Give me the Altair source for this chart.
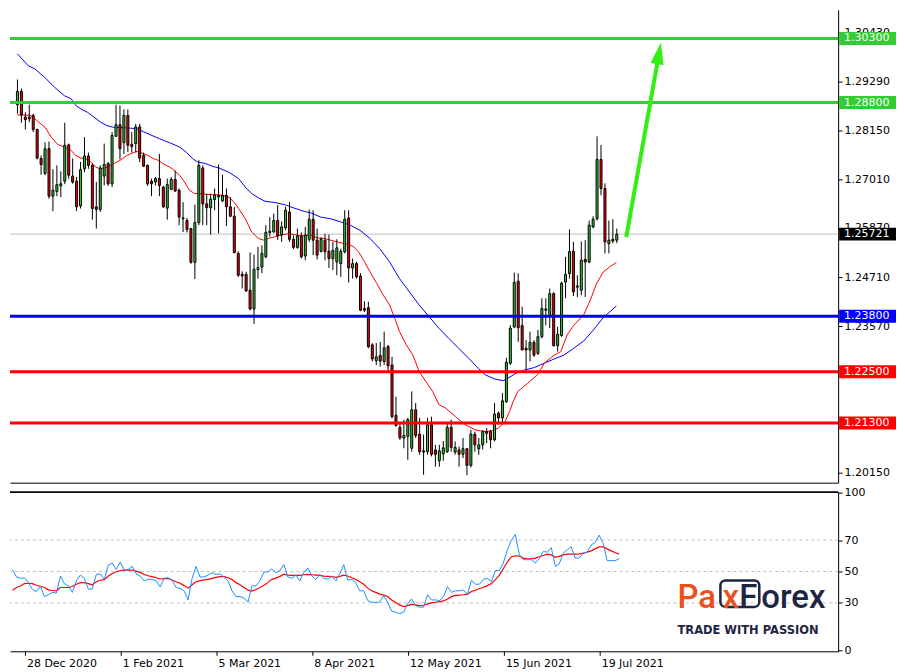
import altair as alt
import pandas as pd
import numpy as np

# ---------------- data ----------------
bar_open = [1.2875, 1.2906, 1.2846, 1.2842, 1.2850, 1.2817, 1.2749, 1.2714, 1.2772, 1.2661,
            1.2672, 1.2685, 1.2696, 1.2781, 1.2708, 1.2696, 1.2638, 1.2725, 1.2755, 1.2733,
            1.2636, 1.2630, 1.2708, 1.2737, 1.2690, 1.2801, 1.2828, 1.2786, 1.2850, 1.2782,
            1.2784, 1.2823, 1.2756, 1.2733, 1.2696, 1.2694, 1.2702, 1.2682, 1.2633, 1.2677,
            1.2700, 1.2675, 1.2610, 1.2604, 1.2585, 1.2506, 1.2599, 1.2727, 1.2643, 1.2634,
            1.2653, 1.2659, 1.2650, 1.2663, 1.2636, 1.2614, 1.2527, 1.2478, 1.2478, 1.2441,
            1.2397, 1.2489, 1.2495, 1.2519, 1.2576, 1.2577, 1.2604, 1.2570, 1.2587, 1.2624,
            1.2560, 1.2541, 1.2568, 1.2521, 1.2560, 1.2607, 1.2558, 1.2532, 1.2558, 1.2532,
            1.2515, 1.2507, 1.2503, 1.2531, 1.2610, 1.2493, 1.2503, 1.2474, 1.2398, 1.2400,
            1.2313, 1.2276, 1.2288, 1.2274, 1.2309, 1.2266, 1.2148, 1.2120, 1.2095, 1.2099,
            1.2071, 1.2161, 1.2104, 1.2065, 1.2063, 1.2126, 1.2067, 1.2042, 1.2058, 1.2063,
            1.2120, 1.2062, 1.2067, 1.2057, 1.2070, 1.2031, 1.2104, 1.2070, 1.2079, 1.2110,
            1.2110, 1.2091, 1.2153, 1.2142, 1.2180, 1.2270, 1.2355, 1.2462, 1.2358, 1.2305,
            1.2301, 1.2319, 1.2293, 1.2332, 1.2394, 1.2379, 1.2433, 1.2311, 1.2335, 1.2460,
            1.2480, 1.2532, 1.2448, 1.2441, 1.2513, 1.2507, 1.2589, 1.2608, 1.2747, 1.2679,
            1.2550, 1.2560, 1.2558]
bar_high = [1.2934, 1.2913, 1.2857, 1.2875, 1.2854, 1.2819, 1.2756, 1.2787, 1.2789, 1.2724,
            1.2733, 1.2719, 1.2833, 1.2784, 1.2749, 1.2706, 1.2741, 1.2799, 1.2763, 1.2737,
            1.2694, 1.2733, 1.2784, 1.2741, 1.2811, 1.2875, 1.2873, 1.2864, 1.2864, 1.2811,
            1.2830, 1.2830, 1.2763, 1.2735, 1.2702, 1.2706, 1.2760, 1.2685, 1.2702, 1.2706,
            1.2721, 1.2679, 1.2647, 1.2610, 1.2587, 1.2641, 1.2745, 1.2733, 1.2667, 1.2667,
            1.2679, 1.2735, 1.2711, 1.2679, 1.2659, 1.2636, 1.2532, 1.2485, 1.2484, 1.2529,
            1.2524, 1.2542, 1.2546, 1.2593, 1.2612, 1.2620, 1.2640, 1.2602, 1.2636, 1.2647,
            1.2569, 1.2585, 1.2576, 1.2589, 1.2630, 1.2628, 1.2585, 1.2565, 1.2573, 1.2571,
            1.2554, 1.2560, 1.2538, 1.2628, 1.2628, 1.2515, 1.2507, 1.2481, 1.2415, 1.2414,
            1.2317, 1.2317, 1.2320, 1.2344, 1.2313, 1.2285, 1.2192, 1.2130, 1.2138, 1.2142,
            1.2204, 1.2177, 1.2142, 1.2103, 1.2142, 1.2145, 1.2079, 1.2079, 1.2088, 1.2130,
            1.2138, 1.2087, 1.2075, 1.2095, 1.2072, 1.2114, 1.2110, 1.2095, 1.2114, 1.2118,
            1.2114, 1.2177, 1.2157, 1.2200, 1.2283, 1.2359, 1.2482, 1.2480, 1.2402, 1.2324,
            1.2344, 1.2324, 1.2348, 1.2422, 1.2422, 1.2445, 1.2436, 1.2355, 1.2461, 1.2519,
            1.2583, 1.2554, 1.2476, 1.2555, 1.2558, 1.2604, 1.2614, 1.2801, 1.2781, 1.2691,
            1.2604, 1.2607, 1.2585]
bar_low = [1.2854, 1.2833, 1.2817, 1.2834, 1.2811, 1.2747, 1.2711, 1.2710, 1.2655, 1.2626,
           1.2661, 1.2659, 1.2689, 1.2702, 1.2690, 1.2626, 1.2632, 1.2717, 1.2725, 1.2606,
           1.2585, 1.2624, 1.2686, 1.2685, 1.2682, 1.2801, 1.2747, 1.2760, 1.2764, 1.2763,
           1.2764, 1.2741, 1.2729, 1.2685, 1.2661, 1.2686, 1.2661, 1.2633, 1.2606, 1.2675,
           1.2671, 1.2593, 1.2577, 1.2576, 1.2503, 1.2467, 1.2593, 1.2593, 1.2593, 1.2571,
           1.2628, 1.2574, 1.2647, 1.2591, 1.2612, 1.2527, 1.2472, 1.2445, 1.2437, 1.2394,
           1.2362, 1.2468, 1.2481, 1.2516, 1.2566, 1.2576, 1.2558, 1.2554, 1.2581, 1.2554,
           1.2537, 1.2538, 1.2515, 1.2511, 1.2554, 1.2523, 1.2513, 1.2529, 1.2511, 1.2493,
           1.2488, 1.2476, 1.2472, 1.2527, 1.2459, 1.2468, 1.2468, 1.2392, 1.2390, 1.2305,
           1.2274, 1.2266, 1.2262, 1.2266, 1.2250, 1.2141, 1.2122, 1.2091, 1.2071, 1.2044,
           1.2063, 1.2095, 1.2056, 1.2009, 1.2056, 1.2052, 1.2028, 1.2028, 1.2042, 1.2060,
           1.2063, 1.2056, 1.2028, 1.2048, 1.2008, 1.2026, 1.2063, 1.2056, 1.2068, 1.2083,
           1.2071, 1.2087, 1.2126, 1.2130, 1.2177, 1.2266, 1.2352, 1.2320, 1.2301, 1.2254,
           1.2274, 1.2285, 1.2289, 1.2328, 1.2359, 1.2352, 1.2309, 1.2297, 1.2332, 1.2422,
           1.2468, 1.2427, 1.2425, 1.2429, 1.2425, 1.2504, 1.2586, 1.2604, 1.2663, 1.2527,
           1.2527, 1.2551, 1.2551]
bar_close = [1.2906, 1.2851, 1.2840, 1.2846, 1.2817, 1.2750, 1.2735, 1.2772, 1.2661, 1.2675,
             1.2688, 1.2690, 1.2780, 1.2710, 1.2694, 1.2636, 1.2723, 1.2755, 1.2733, 1.2632,
             1.2630, 1.2727, 1.2735, 1.2690, 1.2803, 1.2828, 1.2772, 1.2850, 1.2780, 1.2777,
             1.2823, 1.2750, 1.2731, 1.2690, 1.2690, 1.2702, 1.2686, 1.2636, 1.2688, 1.2700,
             1.2673, 1.2612, 1.2608, 1.2583, 1.2506, 1.2599, 1.2733, 1.2643, 1.2634, 1.2654,
             1.2663, 1.2663, 1.2663, 1.2636, 1.2614, 1.2529, 1.2476, 1.2474, 1.2439, 1.2397,
             1.2490, 1.2494, 1.2527, 1.2576, 1.2579, 1.2604, 1.2568, 1.2589, 1.2628, 1.2560,
             1.2541, 1.2568, 1.2519, 1.2570, 1.2607, 1.2558, 1.2523, 1.2560, 1.2531, 1.2515,
             1.2534, 1.2540, 1.2532, 1.2607, 1.2493, 1.2503, 1.2472, 1.2394, 1.2394, 1.2309,
             1.2280, 1.2285, 1.2275, 1.2306, 1.2264, 1.2145, 1.2124, 1.2095, 1.2101, 1.2138,
             1.2161, 1.2101, 1.2063, 1.2062, 1.2126, 1.2057, 1.2057, 1.2065, 1.2072, 1.2120,
             1.2073, 1.2073, 1.2057, 1.2070, 1.2031, 1.2104, 1.2079, 1.2079, 1.2110, 1.2106,
             1.2091, 1.2151, 1.2142, 1.2182, 1.2272, 1.2352, 1.2459, 1.2353, 1.2301, 1.2301,
             1.2319, 1.2289, 1.2332, 1.2398, 1.2397, 1.2433, 1.2311, 1.2338, 1.2457, 1.2478,
             1.2531, 1.2437, 1.2451, 1.2511, 1.2507, 1.2593, 1.2607, 1.2747, 1.2679, 1.2554,
             1.2558, 1.2556, 1.2572]

# moving averages on price (sample points: bar position, price)
ma_red_bar = [0, 3.2, 4.4, 7, 8.6, 10.2, 11.9, 13.6, 14.8, 16.1, 17.3, 18.6, 19.8, 21.1, 22.7,
              24.4, 26.1, 27.7, 29.4, 30.7, 31.9, 33.2, 34.4, 35.7, 36.9, 38.6, 39.4, 41.1, 42.4,
              43.6, 44.9, 46.1, 47.8, 49.4, 51.9, 53.6, 54.9, 56.1, 57.8, 59.4, 61.1, 62.4, 63.6,
              65.3, 66.9, 68.6, 70.2, 71.9, 74.4, 76.1, 77.8, 79.4, 81.1, 82.8, 84, 85.3, 86.5,
              87.8, 89.4, 91.1, 92.8, 94.4, 95.7, 96.9, 98.6, 100.3, 101.9, 103.6, 105.3, 106.9,
              108.6, 111.1, 113.6, 116.1, 118.6, 120.3, 121.9, 123.6, 124.8, 125.7, 126.9, 129.4,
              131.9, 133.6, 136.1, 137.8, 139.4, 141.1, 143.6, 145.3, 146.9, 148.6, 150.3, 151.9]
ma_red_val = [1.2851, 1.2850, 1.2842, 1.2822, 1.2799, 1.2782, 1.2776, 1.2768, 1.2756, 1.2750,
              1.2749, 1.2741, 1.2729, 1.2725, 1.2729, 1.2737, 1.2745, 1.2756, 1.2763, 1.2766,
              1.2760, 1.2756, 1.2749, 1.2745, 1.2737, 1.2729, 1.2724, 1.2710, 1.2694, 1.2675,
              1.2667, 1.2667, 1.2665, 1.2665, 1.2663, 1.2659, 1.2647, 1.2632, 1.2608, 1.2577,
              1.2562, 1.2558, 1.2562, 1.2566, 1.2570, 1.2573, 1.2571, 1.2568, 1.2570, 1.2563,
              1.2562, 1.2558, 1.2554, 1.2550, 1.2548, 1.2542, 1.2531, 1.2511, 1.2484, 1.2457,
              1.2429, 1.2406, 1.2375, 1.2344, 1.2313, 1.2289, 1.2250, 1.2227, 1.2204, 1.2173,
              1.2165, 1.2145, 1.2126, 1.2114, 1.2110, 1.2112, 1.2118, 1.2132, 1.2157, 1.2180,
              1.2204, 1.2223, 1.2243, 1.2270, 1.2289, 1.2297, 1.2336, 1.2359, 1.2383, 1.2418,
              1.2457, 1.2484, 1.2496, 1.2506]
ma_blue_bar = [0, 2.75, 4.4, 6.9, 9.4, 11.9, 13.6, 14.8, 16.1, 17.8, 19.4, 21.1, 22.7, 24.4, 26.9,
               28.6, 30.3, 31.9, 33.6, 36.1, 38.6, 41.1, 42.8, 44.4, 45.7, 47.8, 49.4, 51.1, 53.6,
               56.1, 57.8, 59.4, 61.1, 62.8, 65.3, 67.8, 70.2, 72.8, 74.4, 76.9, 79.4, 81.9, 84.4,
               86.9, 89.4, 91.9, 94.4, 96.9, 99.4, 101.9, 104.4, 106.9, 109.4, 111.9, 114.4, 116.9,
               118.6, 121.1, 123.2, 124.4, 126.5, 128.6, 131.1, 133.6, 136.1, 138.6, 141.1, 143.6,
               146.1, 148.6, 150.2, 151.9]
ma_blue_val = [1.2994, 1.2966, 1.2959, 1.2939, 1.2916, 1.2896, 1.2889, 1.2873, 1.2865, 1.2857,
               1.2846, 1.2834, 1.2826, 1.2822, 1.2821, 1.2820, 1.2819, 1.2812, 1.2805, 1.2795,
               1.2786, 1.2776, 1.2764, 1.2749, 1.2741, 1.2737, 1.2731, 1.2727, 1.2717, 1.2702,
               1.2682, 1.2667, 1.2657, 1.2649, 1.2646, 1.2641, 1.2633, 1.2625, 1.2622, 1.2612,
               1.2608, 1.2601, 1.2593, 1.2581, 1.2562, 1.2538, 1.2507, 1.2468, 1.2437, 1.2406,
               1.2379, 1.2352, 1.2328, 1.2305, 1.2282, 1.2258, 1.2243, 1.2233, 1.2229, 1.2235,
               1.2247, 1.2254, 1.2260, 1.2270, 1.2280, 1.2289, 1.2305, 1.2322, 1.2348, 1.2377,
               1.2390, 1.2404]

# RSI panel
rsi_line = [51.3, 46.5, 45.6, 46.0, 42.9, 38.5, 37.1, 40.8, 34.0, 35.2,
            36.7, 36.3, 47.1, 42.3, 40.8, 36.7, 44.0, 47.7, 45.6, 38.8,
            38.8, 48.1, 48.5, 45.0, 54.0, 55.4, 51.3, 56.0, 50.8, 51.3,
            53.3, 48.5, 47.1, 44.0, 45.0, 45.0, 44.0, 40.2, 45.6, 46.0,
            44.4, 39.8, 39.2, 37.7, 31.9, 45.6, 53.3, 46.5, 46.5, 47.7,
            49.2, 48.1, 48.5, 46.5, 44.0, 37.7, 34.0, 34.0, 33.1, 30.4,
            40.8, 40.8, 44.0, 49.6, 49.8, 51.7, 49.2, 50.6, 54.4, 46.5,
            45.6, 47.7, 44.0, 49.2, 52.3, 47.1, 45.0, 48.1, 45.6, 45.0,
            47.1, 44.0, 48.5, 54.4, 44.4, 45.0, 42.9, 37.7, 37.7, 31.5,
            30.4, 30.4, 30.4, 34.6, 30.4, 24.8, 24.2, 23.1, 24.2, 29.4,
            32.5, 28.3, 27.3, 27.3, 35.2, 31.9, 31.9, 31.5, 34.0, 40.4,
            36.7, 37.7, 37.7, 38.1, 35.6, 44.4, 41.9, 41.9, 45.0, 45.6,
            43.5, 50.6, 50.6, 55.4, 63.75, 70.0, 73.5, 60.6, 57.5, 57.5,
            57.5, 55.4, 58.1, 62.7, 62.3, 65.2, 53.3, 54.8, 61.7, 63.75,
            65.8, 58.5, 58.5, 61.7, 62.3, 66.9, 68.5, 73.1, 67.9, 56.9,
            56.9, 56.9, 58.1]
rsi_signal = [38.1, 39.8, 40.8, 42.3, 42.5, 42.3, 41.25, 40.6, 39.8, 38.3,
              37.9, 37.7, 39.8, 39.8, 39.8, 40.4, 41.9, 42.9, 42.9, 42.3,
              41.5, 43.5, 44.4, 44.8, 47.1, 48.75, 49.8, 50.6, 50.8, 50.8,
              50.8, 50.2, 49.4, 48.1, 47.3, 46.7, 46.0, 45.2, 45.4, 45.6,
              44.6, 43.5, 42.5, 41.0, 39.4, 41.5, 43.5, 44.2, 44.6, 45.0,
              45.6, 46.25, 46.7, 46.7, 46.0, 45.0, 42.9, 41.5, 39.8, 38.1,
              37.5, 38.5, 39.8, 41.25, 42.9, 45.0, 45.8, 46.9, 48.3, 47.7,
              47.5, 47.5, 47.5, 47.9, 48.1, 47.9, 47.7, 47.5, 47.1, 46.9,
              46.7, 46.25, 46.9, 47.7, 47.1, 46.0, 45.0, 43.5, 41.9, 39.4,
              37.7, 36.7, 35.6, 35.0, 34.0, 31.9, 30.2, 28.75, 27.7, 28.3,
              29.0, 28.75, 28.3, 28.5, 29.4, 30.0, 30.4, 30.8, 31.25, 32.5,
              34.0, 34.8, 35.0, 35.2, 35.6, 37.3, 38.1, 39.2, 39.8, 41.0,
              42.3, 44.8, 47.7, 51.9, 56.0, 59.4, 60.0, 59.8, 58.5, 58.1,
              58.1, 58.5, 59.4, 60.2, 61.0, 60.6, 59.0, 59.6, 60.6, 61.0,
              61.0, 61.0, 61.25, 61.7, 62.3, 63.1, 64.4, 65.6, 65.6, 64.4,
              63.1, 62.1, 61.0]

date_tick_bars = [3, 27, 51, 75, 99, 123, 147]
date_tick_labels = ["28 Dec 2020", "1 Feb 2021", "5 Mar 2021", "8 Apr 2021",
                    "12 May 2021", "15 Jun 2021", "19 Jul 2021"]
# ticks whose labels are visible in the reference (others are hidden behind level tags)
price_tick_values = [1.2015, 1.2357, 1.2471, 1.2587, 1.2701, 1.2815, 1.2929, 1.3043]
rsi_tick_values = [0, 30, 50, 70, 100]
rsi_levels = [30, 50, 70]

level_prices = [1.3030, 1.2880, 1.2380, 1.2250, 1.2130]
level_colors = ["#32CD32", "#32CD32", "#0000FF", "#FF0000", "#FF0000"]
last_price = 1.25721

arrow_start = [154.4, 1.2565]
arrow_end = [162.3, 1.2973]
arrow_head = [162.7, 1.2995]

# ---------------- layout ----------------
W, H1, H2 = 830, 474, 160
FONT = "DejaVu Sans"
xs = alt.Scale(domain=[-0.625, 206.875], nice=False, zero=False)
ys = alt.Scale(domain=[1.19905, 1.30972], nice=False, zero=False)
rs = alt.Scale(domain=[-0.8, 100.8], nice=False, zero=False)

yaxis = alt.Axis(orient="right", values=price_tick_values, format=".5f", title=None,
                 tickSize=4, labelPadding=2, grid=False, labelOverlap=False,
                 labelFlush=False, zindex=0)
xaxis_main = alt.Axis(labels=False, ticks=False, domain=True, grid=False, title=None)

N = len(bar_open)
candles = pd.DataFrame({"bar": range(N), "open": bar_open, "high": bar_high,
                        "low": bar_low, "close": bar_close})
candles["dir"] = np.where(candles["close"] >= candles["open"], "up", "down")

X = alt.X("bar:Q", scale=xs, axis=xaxis_main)


def Yp(field):
    return alt.Y(field, type="quantitative", scale=ys, axis=yaxis)


last_df = pd.DataFrame({"price": [last_price], "label": [f"{last_price:.5f}"], "bg": ["#000000"]})
lev_df = pd.DataFrame({"price": level_prices, "color": level_colors,
                       "label": [f"{p:.5f}" for p in level_prices]})
box_df = pd.concat([lev_df.rename(columns={"color": "bg"}), last_df], ignore_index=True)

red_ma = pd.DataFrame({"bar": ma_red_bar, "v": ma_red_val})
blue_ma = pd.DataFrame({"bar": ma_blue_bar, "v": ma_blue_val})

cur_line = alt.Chart(last_df).mark_rule(color="#C0C0C0", strokeWidth=1).encode(y=Yp("price"))
blue_line = alt.Chart(blue_ma).mark_line(color="#0000FF", strokeWidth=1).encode(x=X, y=Yp("v"))
red_line = alt.Chart(red_ma).mark_line(color="#FF0000", strokeWidth=1).encode(x=X, y=Yp("v"))
wicks = alt.Chart(candles).mark_rule(color="black", strokeWidth=1).encode(
    x=X, y=Yp("low"), y2="high")
bodies = alt.Chart(candles).mark_bar(width=2, stroke="black", strokeWidth=1).encode(
    x=X, y=Yp("open"), y2="close",
    color=alt.Color("dir:N", scale=alt.Scale(domain=["up", "down"], range=["#32CD32", "#FF0000"]),
                    legend=None))
levels = alt.Chart(lev_df).mark_rule(strokeWidth=3).encode(
    y=Yp("price"), color=alt.Color("color:N", scale=None))

arrow_df = pd.DataFrame({"x1": [arrow_start[0]], "y1": [arrow_start[1]],
                         "x2": [arrow_end[0]], "y2": [arrow_end[1]]})
arrow_line = alt.Chart(arrow_df).mark_rule(color="#33EE11", strokeWidth=4).encode(
    x=alt.X("x1:Q", scale=xs, axis=xaxis_main), x2="x2:Q", y=Yp("y1"), y2="y2:Q")
head_df = pd.DataFrame({"bar": [arrow_head[0]], "price": [arrow_head[1]]})
arrow_tip = alt.Chart(head_df).mark_point(
    shape="M0,-1L0.6,1L-0.6,1Z", filled=True, size=484, angle=10, color="#33EE11", opacity=1
).encode(x=X, y=Yp("price"))

boxes = alt.Chart(box_df).mark_tick(orient="horizontal", thickness=13, size=57, opacity=1).encode(
    x=alt.value(W + 29.5), y=Yp("price"), color=alt.Color("bg:N", scale=None))
box_text = alt.Chart(box_df).mark_text(align="left", baseline="middle", color="white",
                                       font=FONT, fontSize=11).encode(
    x=alt.value(W + 6), y=Yp("price"), text="label:N")

main = alt.layer(cur_line, blue_line, red_line, wicks, bodies, levels,
                 arrow_line, arrow_tip, boxes, box_text).properties(width=W, height=H1)

# ---------------- RSI panel ----------------
expr = "''"
for b, lab in reversed(list(zip(date_tick_bars, date_tick_labels))):
    expr = f"datum.value == {b} ? '{lab}' : {expr}"

xaxis_rsi = alt.Axis(values=date_tick_bars, labelExpr=expr, tickSize=4, labelAlign="left",
                     labelPadding=2, labelOffset=2, labelFlush=False, labelOverlap=False,
                     labelBound=False, title=None, grid=False)
raxis = alt.Axis(orient="right", values=rsi_tick_values, title=None, tickSize=4, labelPadding=2,
                 grid=False, labelFlush=True, labelOverlap=False, zindex=0)
XR = alt.X("bar:Q", scale=xs, axis=xaxis_rsi)

rsi_df = pd.DataFrame({"bar": range(len(rsi_line)), "rsi": rsi_line, "sig": rsi_signal})
lvl_df = pd.DataFrame({"lvl": rsi_levels})

dashes = alt.Chart(lvl_df).mark_rule(color="#C0C0C0", strokeDash=[3, 3], strokeWidth=1).encode(
    y=alt.Y("lvl:Q", scale=rs, axis=raxis))
rsi_blue = alt.Chart(rsi_df).mark_line(color="#1E90FF", strokeWidth=1).encode(
    x=XR, y=alt.Y("rsi:Q", scale=rs, axis=raxis))
rsi_red = alt.Chart(rsi_df).mark_line(color="#FF0000", strokeWidth=1.2).encode(
    x=XR, y=alt.Y("sig:Q", scale=rs, axis=raxis))
top_border = alt.Chart(lvl_df).mark_rule(color="black", strokeWidth=1).encode(
    x=alt.value(0), x2=alt.value(W), y=alt.value(0.5))

ORANGE = "#E8521E"
NAVY = "#1D2542"


def logo_text(t, col, xpos):
    return alt.Chart(pd.DataFrame({"t": [t]})).mark_text(
        align="left", baseline="alphabetic", font="Roboto", fontSize=33, fontWeight=500,
        color=col).encode(x=alt.value(xpos), y=alt.value(116.5), text="t:N")


logo_box = alt.Chart(lvl_df.head(1)).mark_rect(
    fillOpacity=0, stroke=NAVY, strokeWidth=2.5, cornerRadius=5).encode(
    x=alt.value(712), x2=alt.value(751), y=alt.value(89), y2=alt.value(115.5))
tagline = alt.Chart(pd.DataFrame({"t": ["TRADE WITH PASSION"]})).mark_text(
    align="left", baseline="alphabetic", font=FONT, fontSize=11.5, fontWeight="bold",
    color=NAVY).encode(x=alt.value(669), y=alt.value(142.3), text="t:N")

rsi = alt.layer(dashes, rsi_red, rsi_blue, top_border,
                logo_box,
                logo_text("Pa", ORANGE, 669), logo_text("x", ORANGE, 714),
                logo_text("F", NAVY, 731), logo_text("orex", NAVY, 753),
                tagline).properties(width=W, height=H2)

chart = alt.vconcat(main, rsi, spacing=2).properties(padding=0, background="white").configure_view(
    stroke="transparent").configure_axis(
    labelFont=FONT, labelFontSize=11, labelColor="black", tickColor="black",
    domainColor="black", grid=False)

chart.save("out.html", embed_options={"renderer": "svg", "actions": False})
